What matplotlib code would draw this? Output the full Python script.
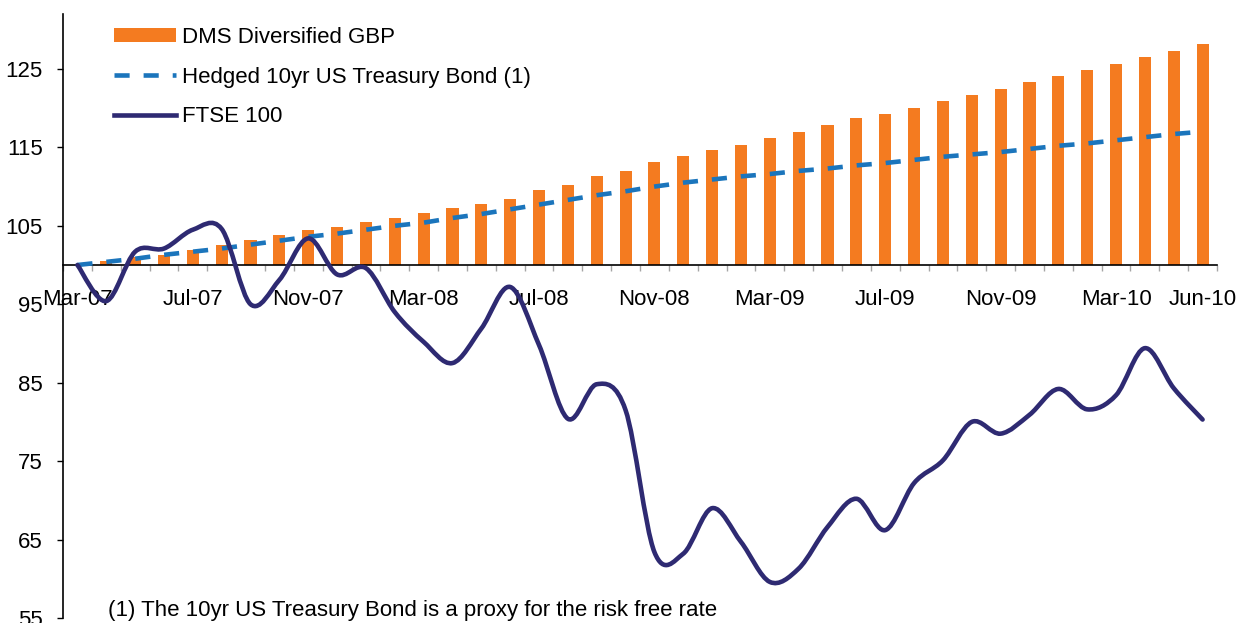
import numpy as np
import matplotlib
matplotlib.use("Agg")
import matplotlib.pyplot as plt
from matplotlib.path import Path
from matplotlib.patches import PathPatch, Patch
from matplotlib.lines import Line2D

plt.rcParams['font.family'] = ['Liberation Sans', 'DejaVu Sans']

# monthly categories, Mar-07 .. Jun-10
months = ['Mar-07', 'Apr-07', 'May-07', 'Jun-07', 'Jul-07', 'Aug-07', 'Sep-07', 'Oct-07',
          'Nov-07', 'Dec-07', 'Jan-08', 'Feb-08', 'Mar-08', 'Apr-08', 'May-08', 'Jun-08',
          'Jul-08', 'Aug-08', 'Sep-08', 'Oct-08', 'Nov-08', 'Dec-08', 'Jan-09', 'Feb-09',
          'Mar-09', 'Apr-09', 'May-09', 'Jun-09', 'Jul-09', 'Aug-09', 'Sep-09', 'Oct-09',
          'Nov-09', 'Dec-09', 'Jan-10', 'Feb-10', 'Mar-10', 'Apr-10', 'May-10', 'Jun-10']

tick_labels = ['Mar-07', 'Jul-07', 'Nov-07', 'Mar-08', 'Jul-08', 'Nov-08',
               'Mar-09', 'Jul-09', 'Nov-09', 'Mar-10', 'Jun-10']

dms = [100.0, 100.5, 101.0, 101.3, 101.9, 102.5, 103.2, 103.8, 104.5, 104.9,
       105.5, 106.0, 106.6, 107.3, 107.8, 108.4, 109.6, 110.2, 111.3, 112.0,
       113.1, 113.9, 114.6, 115.3, 116.2, 117.0, 117.9, 118.7, 119.2, 120.0,
       120.9, 121.7, 122.4, 123.3, 124.1, 124.8, 125.6, 126.5, 127.3, 128.2]

treasury = [100.0, 100.4, 100.8, 101.3, 101.7, 102.1, 102.6, 103.1, 103.6, 104.0,
            104.5, 105.0, 105.4, 106.0, 106.5, 107.1, 107.7, 108.3, 108.9, 109.4,
            110.0, 110.5, 110.9, 111.3, 111.6, 112.0, 112.3, 112.7, 113.0, 113.4,
            113.8, 114.1, 114.4, 114.8, 115.2, 115.5, 115.9, 116.3, 116.7, 117.0]

ftse = [100.0, 95.4, 101.7, 102.1, 104.5, 104.6, 95.0, 98.1, 103.4, 98.8,
        99.6, 94.0, 90.2, 87.5, 91.9, 97.2, 89.8, 80.4, 84.8, 81.5,
        63.4, 63.2, 69.0, 64.7, 59.6, 61.3, 66.6, 70.2, 66.2, 72.2,
        75.1, 80.0, 78.5, 80.9, 84.2, 81.6, 83.4, 89.4, 84.3, 80.3]

series_names = ['DMS Diversified GBP', 'Hedged 10yr US Treasury Bond (1)', 'FTSE 100']
footnote = '(1) The 10yr US Treasury Bond is a proxy for the risk free rate'

ORANGE = '#F47B20'
BLUE = '#1B75BC'
NAVY = '#2E2A72'
FS = 16
LW = 3.3


def smooth_path(xs, ys):
    # Excel style smoothed line: cubic bezier through the points
    n = len(xs)
    verts = [(xs[0], ys[0])]
    codes = [Path.MOVETO]
    for i in range(n - 1):
        a = i - 1 if i > 0 else i
        d = i + 2 if i + 2 < n else i + 1
        c1 = (xs[i] + (xs[i + 1] - xs[a]) / 6, ys[i] + (ys[i + 1] - ys[a]) / 6)
        c2 = (xs[i + 1] - (xs[d] - xs[i]) / 6, ys[i + 1] - (ys[d] - ys[i]) / 6)
        verts += [c1, c2, (xs[i + 1], ys[i + 1])]
        codes += [Path.CURVE4] * 3
    return Path(verts, codes)


x = np.arange(len(months))

fig = plt.figure(figsize=(12.42, 6.23), dpi=100)
ax = fig.add_axes([63 / 1242, 5 / 623, (1217 - 63) / 1242, (618 - 14) / 623])

ax.bar(x, np.array(dms) - 100, bottom=100, width=0.42, color=ORANGE, zorder=2)
ax.plot(x, treasury, color=BLUE, lw=LW, dashes=(3.3, 3.05), zorder=3)
ax.add_patch(PathPatch(smooth_path(x, ftse), fill=False, edgecolor=NAVY, lw=LW,
                       zorder=4, capstyle='round', joinstyle='round'))

ax.set_xlim(-0.5, len(months) - 0.5)
ax.set_ylim(55, 132)

for s in ['top', 'right']:
    ax.spines[s].set_visible(False)
ax.spines['bottom'].set_position(('data', 100))
ax.spines['bottom'].set_linewidth(1.2)
ax.spines['left'].set_linewidth(1.2)

ax.set_yticks(np.arange(55, 126, 10))
ax.tick_params(axis='y', direction='out', length=4.5, width=1, pad=10, labelsize=FS)

ax.set_xticks([months.index(t) for t in tick_labels])
ax.set_xticklabels(tick_labels)
ax.set_xticks(np.arange(-0.5, len(months), 1), minor=True)
ax.tick_params(axis='x', which='major', length=0, pad=17.5, labelsize=FS)
ax.tick_params(axis='x', which='minor', length=4, width=1, color='#A6A6A6', direction='out')

handles = [Patch(facecolor=ORANGE),
           Line2D([], [], color=BLUE, lw=LW, dashes=(3.3, 3.05)),
           Line2D([], [], color=NAVY, lw=LW)]
ax.legend(handles, series_names, loc='upper left',
          bbox_to_anchor=(114 / 1242, 1 - 27 / 623), bbox_transform=fig.transFigure,
          frameon=False, fontsize=FS, handlelength=2.8, handleheight=0.55,
          handletextpad=0.28, labelspacing=0.84, borderpad=0, borderaxespad=0)

fig.text(108 / 1242, 7 / 623, footnote, fontsize=FS, va='baseline', ha='left')

fig.savefig('out.png', dpi=100)
